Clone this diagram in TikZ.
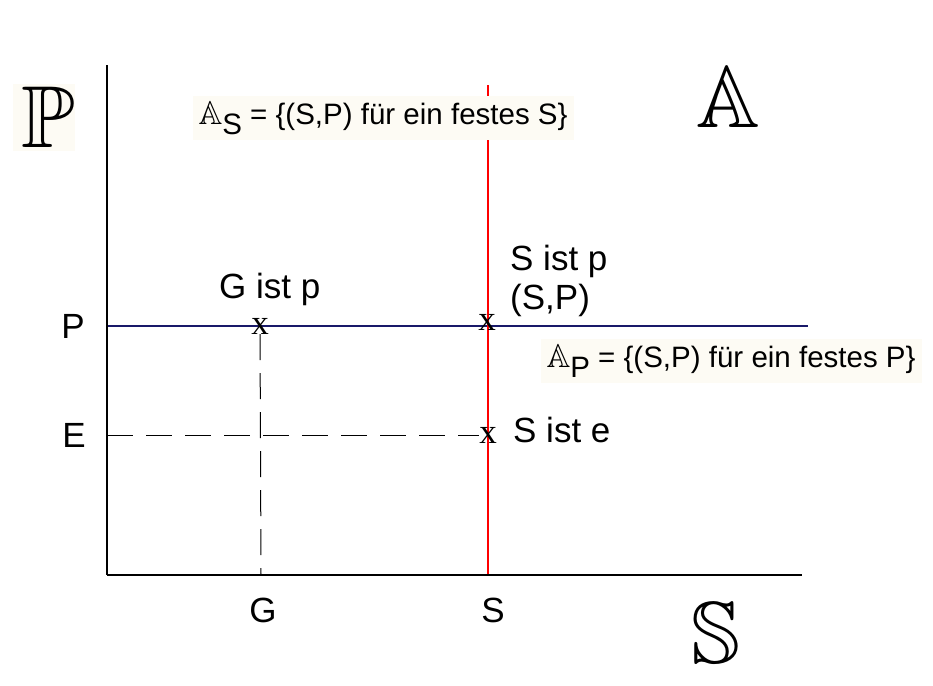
\documentclass[tikz,border=0pt]{standalone}
\usepackage{amssymb}
\usepackage{fontspec}
\setmainfont{Liberation Sans}
\newfontfamily\serifx{Liberation Serif}
\usepackage{tikz}

\definecolor{labelbg}{RGB}{253,251,244}
\definecolor{pline}{RGB}{25,25,105}

\newcommand{\bbA}{{\fontsize{33}{33}\selectfont$\mathbb{A}$}}

\begin{document}
\begin{tikzpicture}[x=1pt,y=-1pt,
    axis/.style ={line width=2pt},
    guide/.style ={line width=1pt, dash pattern=on 26pt off 13pt},
    marker/.style ={inner sep=0pt, font=\serifx\fontsize{35}{35}\selectfont},
    tick/.style ={inner sep=0pt, font=\fontsize{35}{35}\selectfont},
    setname/.style ={inner sep=0pt, font=\fontsize{88}{88}\selectfont},
    setlabel/.style ={fill=labelbg, inner xsep=6pt, inner ysep=5pt, font=\fontsize{29.5}{29.5}\selectfont}]
   \useasboundingbox (0,0) rectangle (933,685);

   \coordinate (O)     at (107,575);
   \coordinate (Ytop)  at (107,65);
   \coordinate (Xend)  at (802,575);
   \coordinate (Stop)  at (488,85);
   \coordinate (Sbot)  at (488,575);
   \coordinate (Pleft) at (107,326);
   \coordinate (Pright) at (808,326);
   \coordinate (Gbot)  at (261,575);
   \coordinate (Eleft) at (107,435);

   \node[fill=labelbg, minimum width=62pt, minimum height=67pt] (Pbg) at (44,117) {};
   \node[setname] (PP) at (48,117) {$\mathbb{P}$};
   \node[setname] (AA) at (728,97)  {$\mathbb{A}$};
   \node[setname] (SS) at (716,633) {$\mathbb{S}$};

   \draw[pline, axis] (Pleft) to (Pright);
   \draw[red, axis] (Stop) to (Sbot);
   \draw[axis] (Ytop) to (O);
   \draw[axis] (O) to (Xend);

   \node[marker] (GP) at (260,326) {x};
   \node[marker] (SP) at (487,322) {x};
   \node[marker] (SE) at (488,435) {x};

   \draw[guide] (GP) to (Gbot);
   \draw[guide] (Eleft) to (SE);

   \node[tick] (Ptick) at (73,326) {P};
   \node[tick] (Etick) at (74,435) {E};
   \node[tick] (Gtick) at (263,610) {G};
   \node[tick] (Stick) at (493,610) {S};

   \node[tick, anchor=west] (GisP) at (219,289) {G ist p};
   \node[tick, anchor=west, align=left, font=\fontsize{35}{39}\selectfont] (SisP) at (510,281) {S ist p\\(S,P)};
   \node[tick, anchor=west] (SisE) at (513,430) {S ist e};

   \node[setlabel] (AS) at (383,118) {\bbA\raisebox{-0.35em}{S} = \{(S,P) für ein festes S\}};
   \node[setlabel] (AP) at (731,361) {\bbA\raisebox{-0.35em}{P} = \{(S,P) für ein festes P\}};

 \end{tikzpicture}
\end{document}
